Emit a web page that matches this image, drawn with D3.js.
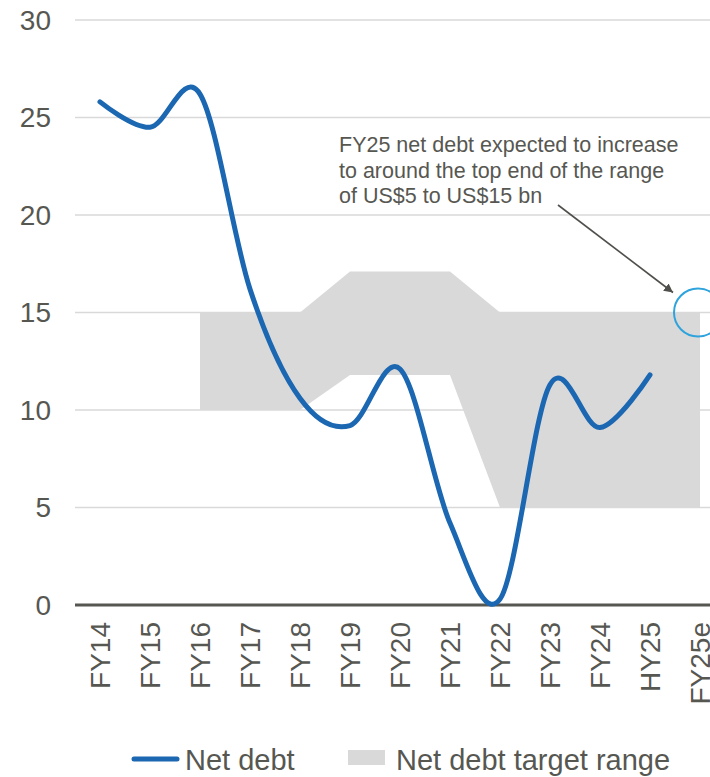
<!DOCTYPE html>
<html>
<head>
<meta charset="utf-8">
<script src="https://cdn.jsdelivr.net/npm/d3@7"></script>
<style>
  body { margin: 0; background: #fff; }
  text { font-family: "Liberation Sans", Arial, sans-serif; fill: #575752; }
</style>
</head>
<body>
<div id="chart"></div>
<script>
var categories = ["FY14","FY15","FY16","FY17","FY18","FY19","FY20","FY21","FY22","FY23","FY24","HY25","FY25e"];
var debtCats   = ["FY14","FY15","FY16","FY17","FY18","FY19","FY20","FY21","FY22","FY23","FY24","HY25"];
var netDebt    = [25.8, 24.5, 26.2, 16.2, 10.6, 9.2, 12.1, 4.2, 0.3, 11.3, 9.1, 11.8];
var rangeCats  = ["FY16","FY17","FY18","FY19","FY20","FY21","FY22","FY23","FY24","HY25","FY25e"];
var rangeLow   = [10, 10, 10, 11.8, 11.8, 11.8, 5, 5, 5, 5, 5];
var rangeHigh  = [15, 15, 15, 17.1, 17.1, 17.1, 15, 15, 15, 15, 15];
var yTicks     = [0, 5, 10, 15, 20, 25, 30];
var note       = ["FY25 net debt expected to increase", "to around the top end of the range", "of US$5 to US$15 bn"];

var width = 710, height = 777;
var margin = {top: 20, left: 75, bottom: 172};

var svg = d3.select("#chart").append("svg")
  .attr("width", width)
  .attr("height", height);

var x = d3.scaleBand().domain(categories).range([75, 725]);
var y = d3.scaleLinear().domain([0, 30]).range([height - margin.bottom, margin.top]);
var cx = function(c) { return x(c) + x.bandwidth() / 2; };

// gridlines + y labels
svg.append("g").selectAll("line").data(yTicks.filter(d => d > 0))
  .enter().append("line")
  .attr("x1", 75).attr("x2", width)
  .attr("y1", d => y(d)).attr("y2", d => y(d))
  .attr("stroke", "#d9d9d9").attr("stroke-width", 1.3);

svg.append("g").selectAll("text").data(yTicks)
  .enter().append("text")
  .attr("x", 51).attr("y", d => y(d))
  .attr("dy", "0.35em")
  .attr("text-anchor", "end")
  .style("font-size", "28px")
  .text(d => d);

// target range band
var band = rangeCats.map((c, i) => ({c: c, lo: rangeLow[i], hi: rangeHigh[i]}));
svg.append("path").datum(band)
  .attr("fill", "#d9d9d9")
  .attr("d", d3.area().x(d => cx(d.c)).y0(d => y(d.lo)).y1(d => y(d.hi)));

// x axis line
svg.append("line")
  .attr("x1", 75).attr("x2", width)
  .attr("y1", y(0)).attr("y2", y(0))
  .attr("stroke", "#575752").attr("stroke-width", 3);

// net debt line
var pts = debtCats.map((c, i) => ({c: c, v: netDebt[i]}));
svg.append("path").datum(pts)
  .attr("fill", "none")
  .attr("stroke", "#1b67b2")
  .attr("stroke-width", 5)
  .attr("stroke-linecap", "round")
  .attr("d", d3.line().x(d => cx(d.c)).y(d => y(d.v)).curve(d3.curveCardinal));

// x labels
svg.append("g").selectAll("text").data(categories)
  .enter().append("text")
  .attr("transform", d => "translate(" + cx(d) + "," + (y(0) + 17) + ") rotate(-90)")
  .attr("dy", "0.35em")
  .attr("text-anchor", "end")
  .style("font-size", "28px")
  .text(d => d);

// annotation
svg.append("g").selectAll("text").data(note)
  .enter().append("text")
  .attr("x", 339).attr("y", (d, i) => 152 + i * 25.5)
  .style("font-size", "21.5px")
  .text(d => d);

svg.append("defs").append("marker")
  .attr("id", "arrow")
  .attr("viewBox", "0 0 10 10")
  .attr("refX", 10).attr("refY", 5)
  .attr("markerWidth", 9).attr("markerHeight", 9)
  .attr("markerUnits", "userSpaceOnUse")
  .attr("orient", "auto")
  .append("path").attr("d", "M0,0L10,5L0,10Z").attr("fill", "#4f504b");

svg.append("line")
  .attr("x1", 558).attr("y1", 205)
  .attr("x2", cx("FY25e") - 27).attr("y2", y(15) - 20)
  .attr("stroke", "#4f504b").attr("stroke-width", 1.6)
  .attr("marker-end", "url(#arrow)");

svg.append("circle")
  .attr("cx", cx("FY25e") - 2).attr("cy", y(15))
  .attr("r", 24)
  .attr("fill", "none")
  .attr("stroke", "#2ea3dc").attr("stroke-width", 2);

// legend
var lg = svg.append("g");
lg.append("line").attr("x1", 134).attr("x2", 177).attr("y1", 759).attr("y2", 759)
  .attr("stroke", "#1b67b2").attr("stroke-width", 5).attr("stroke-linecap", "round");
lg.append("text").attr("x", 185).attr("y", 770).style("font-size", "29px").text("Net debt");
lg.append("rect").attr("x", 348).attr("y", 750).attr("width", 37).attr("height", 15).attr("fill", "#d9d9d9");
lg.append("text").attr("x", 396).attr("y", 770).style("font-size", "29px").text("Net debt target range");
</script>
</body>
</html>
